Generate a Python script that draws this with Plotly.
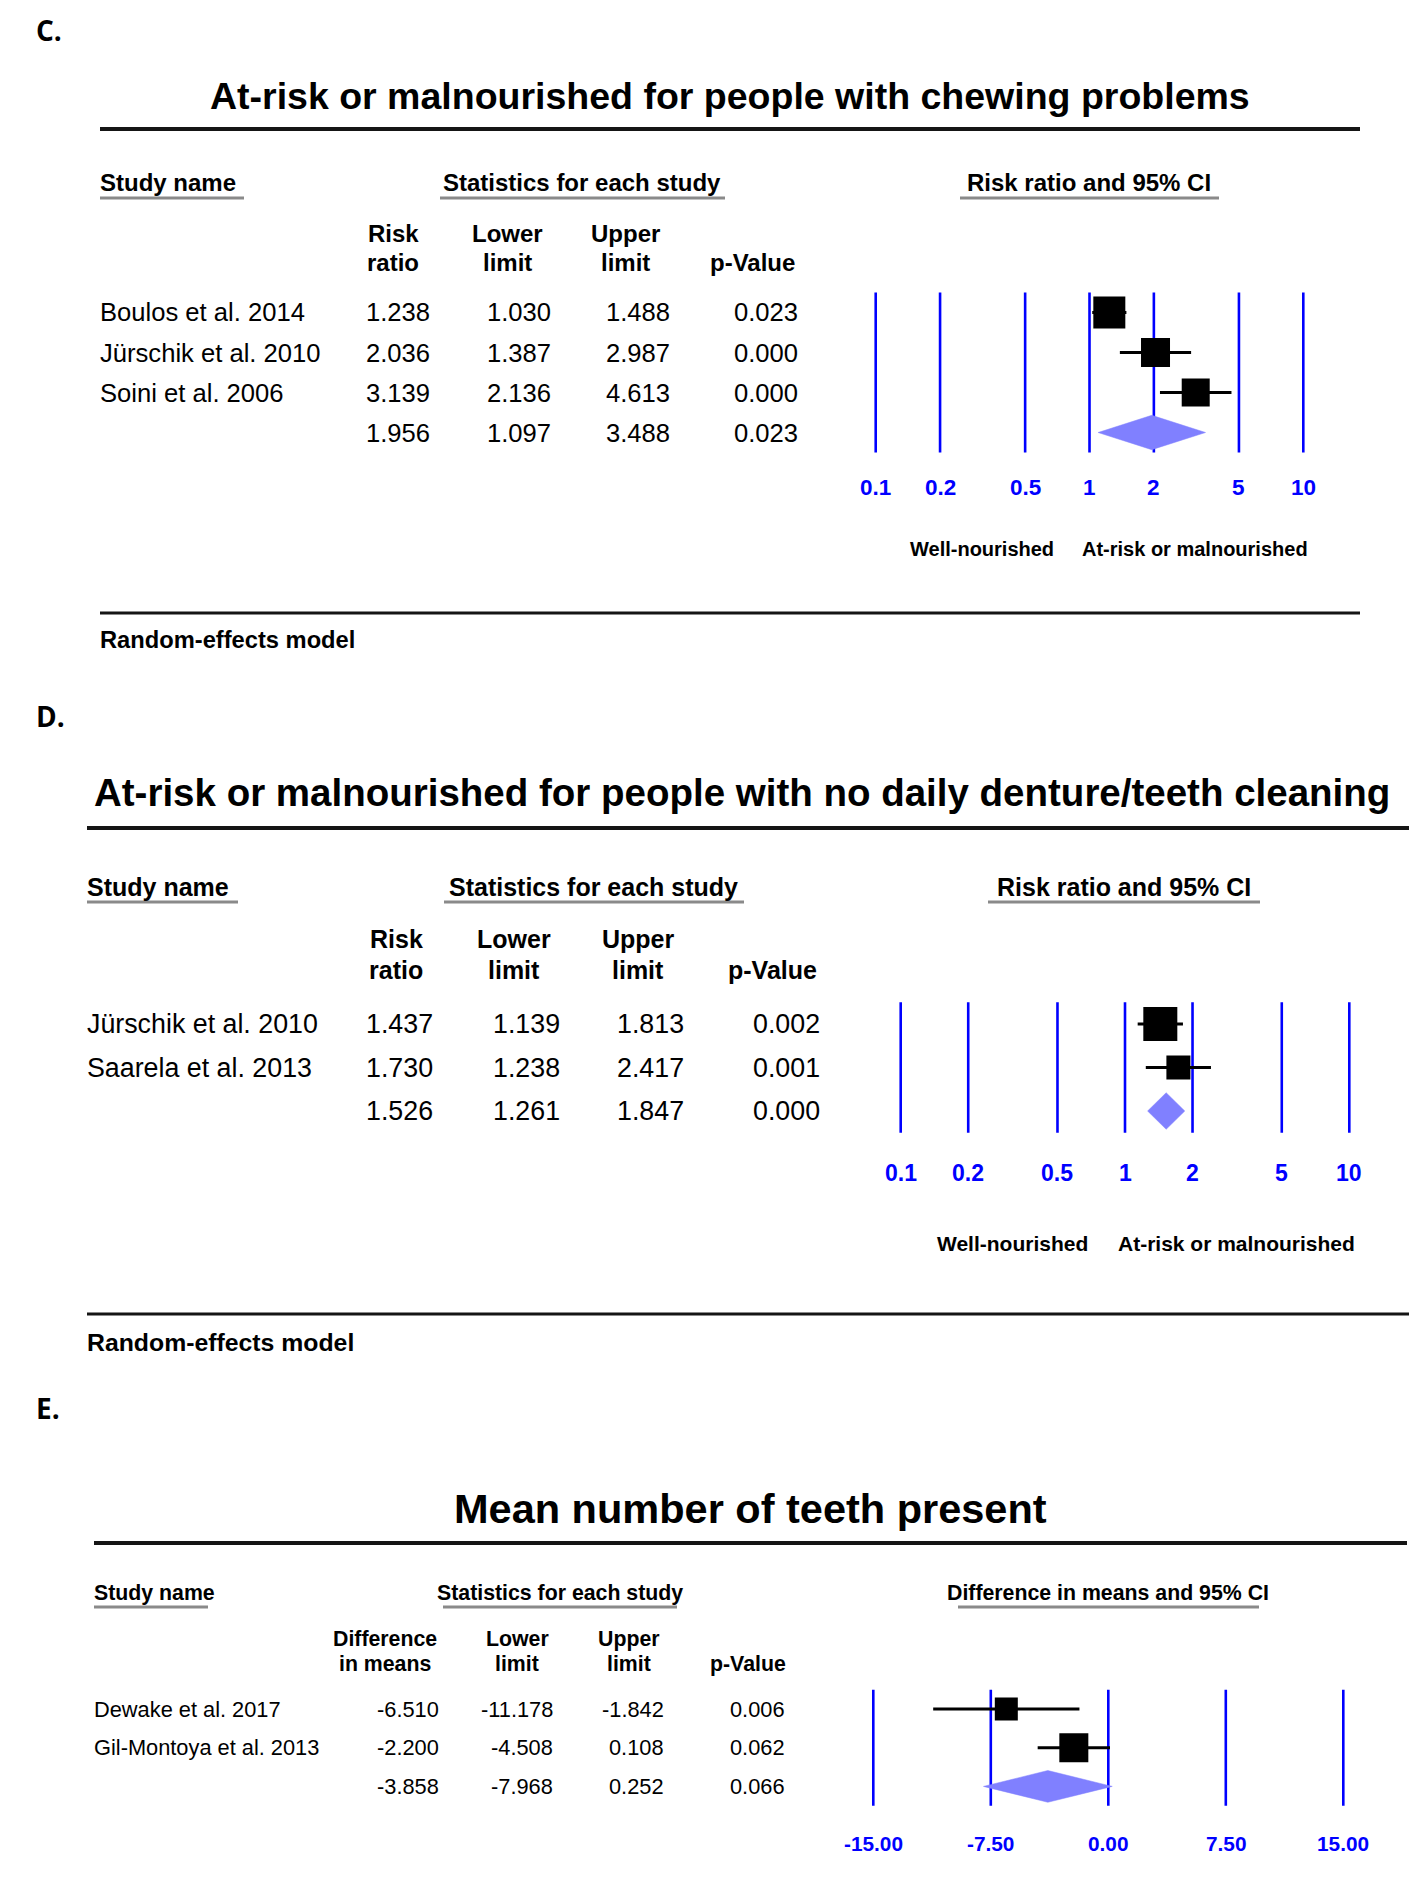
import math
import plotly.graph_objects as go

W, H = 1425, 1885
FONT = "Liberation Sans, Arial, Helvetica, sans-serif"
LABEL_FONT = "Open Sans, Liberation Sans, Arial, sans-serif"

# ---------------- data ----------------
# Panel C
c_title = "At-risk or malnourished for people with chewing problems"
c_studies = ["Boulos et al. 2014", "Jürschik et al. 2010", "Soini et al. 2006"]
c_rr = [1.238, 2.036, 3.139]
c_lower = [1.030, 1.387, 2.136]
c_upper = [1.488, 2.987, 4.613]
c_p = [0.023, 0.000, 0.000]
c_pool_rr, c_pool_lower, c_pool_upper, c_pool_p = 1.956, 1.097, 3.488, 0.023

# Panel D
d_title = "At-risk or malnourished for people with no daily denture/teeth cleaning"
d_studies = ["Jürschik et al. 2010", "Saarela et al. 2013"]
d_rr = [1.437, 1.730]
d_lower = [1.139, 1.238]
d_upper = [1.813, 2.417]
d_p = [0.002, 0.001]
d_pool_rr, d_pool_lower, d_pool_upper, d_pool_p = 1.526, 1.261, 1.847, 0.000

# Panel E
e_title = "Mean number of teeth present"
e_studies = ["Dewake et al. 2017", "Gil-Montoya et al. 2013"]
e_diff = [-6.510, -2.200]
e_lower = [-11.178, -4.508]
e_upper = [-1.842, 0.108]
e_p = [0.006, 0.062]
e_pool_diff, e_pool_lower, e_pool_upper, e_pool_p = -3.858, -7.968, 0.252, 0.066

rr_ticks = [0.1, 0.2, 0.5, 1, 2, 5, 10]
rr_tick_text = ["0.1", "0.2", "0.5", "1", "2", "5", "10"]
md_ticks = [-15, -7.5, 0, 7.5, 15]
md_tick_text = ["-15.00", "-7.50", "0.00", "7.50", "15.00"]

# ---------------- helpers ----------------
annotations = []
shapes = []


def px(x):
    return x / W


def py(y):
    return 1 - y / H


def text(x, y, s, size, bold=False, anchor="left", color="black", family=FONT):
    if anchor == "left":
        x -= 2.5
    elif anchor == "right":
        x += 1
    annotations.append(dict(
        x=px(x), y=py(y), xref="paper", yref="paper",
        text=f"<b>{s}</b>" if bold else s, showarrow=False,
        xanchor=anchor, yanchor="middle",
        font=dict(size=size, color=color, family=family)))


def hline(x0, x1, y, width, color):
    shapes.append(dict(type="line", xref="paper", yref="paper",
                       x0=px(x0), x1=px(x1), y0=py(y), y1=py(y),
                       line=dict(color=color, width=width)))


fig = go.Figure()
layout_axes = {}


def forest(idx, studies, est, lo, hi, pv, pool, ticks, tick_text, log,
           xpix, row0, spacing, box_sizes, diamond_half, tick_y, tick_size,
           cols, col_size, name_x):
    sfx = "" if idx == 1 else str(idx)
    n = len(studies) + 1
    # x axis mapping
    t0 = math.log10(ticks[0]) if log else ticks[0]
    t1 = math.log10(ticks[-1]) if log else ticks[-1]
    scale = (xpix[1] - xpix[0]) / (t1 - t0)
    pad = 0.06 * (t1 - t0)
    r0, r1 = t0 - pad, t1 + pad
    dom_x = [px(xpix[0] + (r0 - t0) * scale), px(xpix[0] + (r1 - t0) * scale)]
    # y axis mapping (rows, reversed)
    ylo, yhi = -0.6, n - 0.4
    top = row0 + ylo * spacing
    bot = row0 + yhi * spacing
    dom_y = [py(bot), py(top)]
    layout_axes["xaxis" + sfx] = dict(domain=dom_x, range=[r0, r1],
                                      type="log" if log else "linear",
                                      visible=False, anchor="y" + sfx)
    layout_axes["yaxis" + sfx] = dict(domain=dom_y, range=[yhi, ylo],
                                      visible=False, anchor="x" + sfx)
    xa, ya = "x" + sfx, "y" + sfx
    # vertical reference lines
    vx, vy = [], []
    for t in ticks:
        vx += [t, t, None]
        vy += [-0.5, n - 0.5, None]
    fig.add_trace(go.Scatter(x=vx, y=vy, mode="lines", xaxis=xa, yaxis=ya,
                             line=dict(color="#0000ff", width=2.6),
                             hoverinfo="skip"))
    # pooled diamond
    pe, pl, pu, _ = pool
    r = n - 1
    fig.add_trace(go.Scatter(x=[pl, pe, pu, pe, pl],
                             y=[r, r - diamond_half, r, r + diamond_half, r],
                             mode="lines", fill="toself", fillcolor="#8080ff",
                             line=dict(color="#8080ff", width=0.5),
                             xaxis=xa, yaxis=ya, hoverinfo="skip"))
    # confidence interval lines
    rows = list(range(len(studies)))
    cx, cy = [], []
    for i, l, h in zip(rows, lo, hi):
        cx += [l, h, None]
        cy += [i, i, None]
    fig.add_trace(go.Scatter(x=cx, y=cy, mode="lines", xaxis=xa, yaxis=ya,
                             line=dict(color="#000000", width=3),
                             hoverinfo="skip"))
    # study squares
    fig.add_trace(go.Scatter(
        x=est, y=rows, mode="markers", xaxis=xa, yaxis=ya,
        marker=dict(symbol="square", size=box_sizes, color="#000000",
                    opacity=1, line=dict(width=0, color="#000000")),
        hoverinfo="skip"))
    # tick labels
    for t, s in zip(ticks, tick_text):
        annotations.append(dict(
            x=math.log10(t) if log else t, y=py(tick_y), xref=xa, yref="paper",
            text=f"<b>{s}</b>", showarrow=False, xanchor="center",
            yanchor="middle",
            font=dict(size=tick_size, color="#0000ff", family=FONT)))
    # table text
    all_rows = [(s, e, l, h, p) for s, e, l, h, p in zip(studies, est, lo, hi, pv)]
    all_rows.append(("", pe, pl, pu, pool[3]))
    for i, (s, e, l, h, p) in enumerate(all_rows):
        y = row0 + i * spacing
        if s:
            text(name_x, y, s, col_size)
        for cxp, v in zip(cols, (e, l, h, p)):
            text(cxp, y, f"{v:.3f}", col_size, anchor="right")


# ---------------- Panel C ----------------
text(36, 30, "C.", 28, bold=True, family=LABEL_FONT)
text(730, 96, c_title, 37.5, bold=True, anchor="center")
hline(100, 1360, 129, 4, "#151515")
text(100, 183, "Study name", 24, bold=True)
text(582, 183, "Statistics for each study", 24, bold=True, anchor="center")
text(1089, 183, "Risk ratio and 95% CI", 24, bold=True, anchor="center")
hline(100, 244, 198, 3, "#8a8a8a")
hline(440, 725, 198, 3, "#8a8a8a")
hline(960, 1219, 198, 3, "#8a8a8a")
for cxp, l1, l2 in [(393, "Risk", "ratio"), (507, "Lower", "limit"),
                    (625, "Upper", "limit")]:
    text(cxp, 233, l1, 24, bold=True, anchor="center")
    text(cxp, 263, l2, 24, bold=True, anchor="center")
text(753, 263, "p-Value", 24, bold=True, anchor="center")
forest(1, c_studies, c_rr, c_lower, c_upper, c_p,
       (c_pool_rr, c_pool_lower, c_pool_upper, c_pool_p),
       rr_ticks, rr_tick_text, True, (875.7, 1303.3), 312.5, 40,
       [32, 29, 28], 0.43, 487, 22.5, [431, 552, 671, 799], 25.6, 100)
text(982, 549, "Well-nourished", 20, bold=True, anchor="center")
text(1195, 549, "At-risk or malnourished", 20, bold=True, anchor="center")
hline(100, 1360, 613, 3, "#151515")
text(100, 640, "Random-effects model", 23.7, bold=True)

# ---------------- Panel D ----------------
text(36, 716, "D.", 28, bold=True, family=LABEL_FONT)
text(742, 793, d_title, 38.5, bold=True, anchor="center")
hline(87, 1409, 828, 4, "#151515")
text(87, 887, "Study name", 25, bold=True)
text(593, 887, "Statistics for each study", 25, bold=True, anchor="center")
text(1124, 887, "Risk ratio and 95% CI", 25, bold=True, anchor="center")
hline(87, 238, 902, 3, "#8a8a8a")
hline(444, 744, 902, 3, "#8a8a8a")
hline(988, 1260, 902, 3, "#8a8a8a")
for cxp, l1, l2 in [(396, "Risk", "ratio"), (514, "Lower", "limit"),
                    (638, "Upper", "limit")]:
    text(cxp, 939, l1, 25, bold=True, anchor="center")
    text(cxp, 970, l2, 25, bold=True, anchor="center")
text(772, 970, "p-Value", 25, bold=True, anchor="center")
forest(2, d_studies, d_rr, d_lower, d_upper, d_p,
       (d_pool_rr, d_pool_lower, d_pool_upper, d_pool_p),
       rr_ticks, rr_tick_text, True, (900.7, 1349.3), 1024, 43.5,
       [34, 24], 0.42, 1173, 23, [434, 561, 685, 821], 26.8, 87)
text(1012, 1243, "Well-nourished", 21, bold=True, anchor="center")
text(1236, 1243, "At-risk or malnourished", 21, bold=True, anchor="center")
hline(87, 1409, 1314, 3, "#151515")
text(87, 1342, "Random-effects model", 24.8, bold=True)

# ---------------- Panel E ----------------
text(36, 1408, "E.", 28, bold=True, family=LABEL_FONT)
text(750, 1508, e_title, 41.5, bold=True, anchor="center")
hline(94, 1407, 1543, 4, "#151515")
text(94, 1593, "Study name", 21.3, bold=True)
text(560, 1593, "Statistics for each study", 21.3, bold=True, anchor="center")
text(1108, 1593, "Difference in means and 95% CI", 21.3, bold=True, anchor="center")
hline(94, 208, 1607, 3, "#8a8a8a")
hline(443, 677, 1607, 3, "#8a8a8a")
hline(958, 1259, 1607, 3, "#8a8a8a")
for cxp, l1, l2 in [(385, "Difference", "in means"), (517, "Lower", "limit"),
                    (629, "Upper", "limit")]:
    text(cxp, 1639, l1, 21.3, bold=True, anchor="center")
    text(cxp, 1664, l2, 21.3, bold=True, anchor="center")
text(748, 1664, "p-Value", 21.3, bold=True, anchor="center")
forest(3, e_studies, e_diff, e_lower, e_upper, e_p,
       (e_pool_diff, e_pool_lower, e_pool_upper, e_pool_p),
       md_ticks, md_tick_text, False, (873.3, 1343.3), 1709, 38.7,
       [23, 29], 0.41, 1843, 20.8, [440, 554, 665, 786], 21.8, 94)

fig.update_layout(
    width=W, height=H, margin=dict(l=0, r=0, t=0, b=0),
    paper_bgcolor="white", plot_bgcolor="rgba(0,0,0,0)",
    showlegend=False, annotations=annotations, shapes=shapes,
    **layout_axes)

fig.write_html("out.html", config={"displayModeBar": False},
               post_script="document.body.style.margin='0';")
